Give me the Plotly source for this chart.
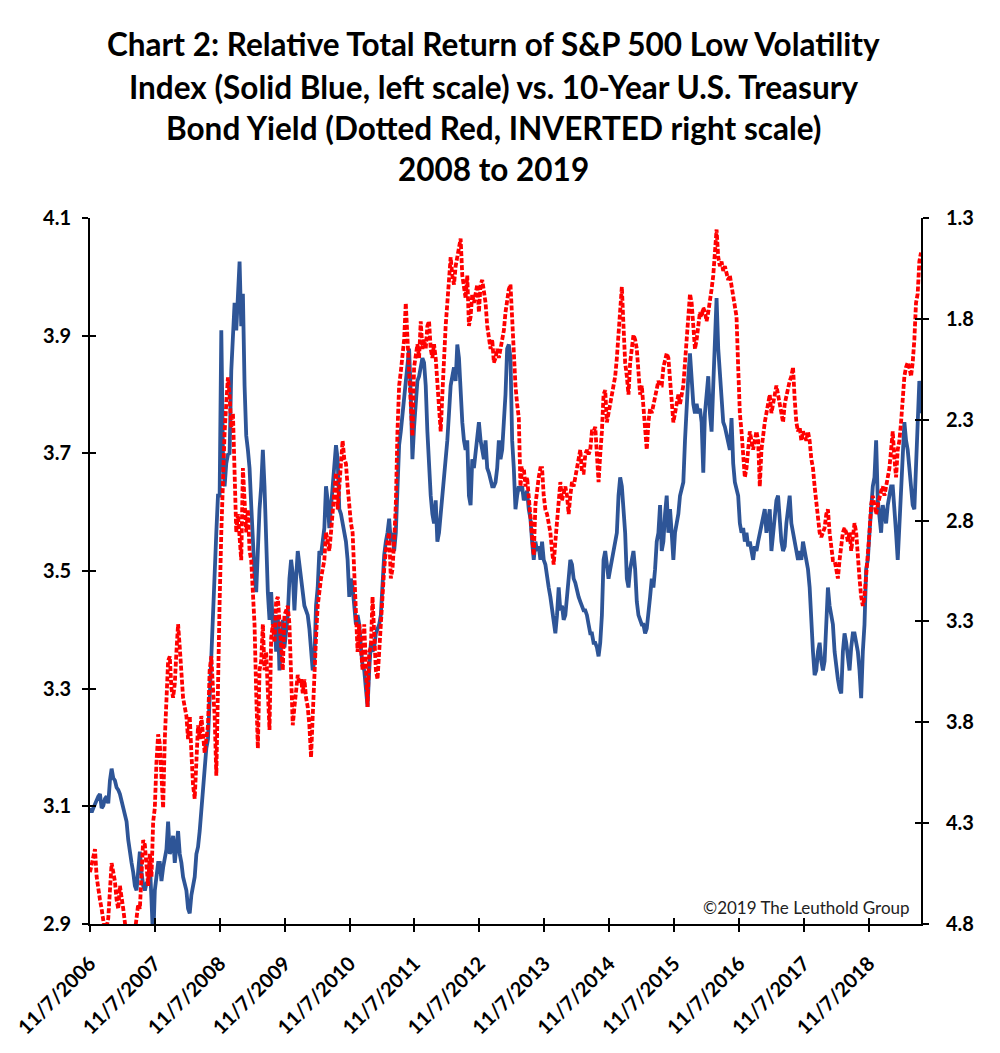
import pandas as pd
import plotly.graph_objects as go

start_date = "2006-11-07"
end_date = "2019-08-28"

# Relative total return of S&P 500 Low Volatility Index (left scale)
low_vol_rel = [
    3.097, 3.090, 3.097, 3.105, 3.109, 3.117, 3.121, 3.097, 3.101, 3.113,
    3.117, 3.105, 3.144, 3.164, 3.148, 3.144, 3.132, 3.128, 3.121, 3.109,
    3.101, 3.090, 3.074, 3.043, 3.019, 3.004, 2.988, 2.965, 2.957, 2.988,
    3.023, 2.988, 2.965, 2.957, 2.969, 2.973, 3.004, 2.941, 2.870, 2.957,
    2.988, 3.004, 3.004, 2.973, 2.996, 3.011, 3.027, 3.074, 3.019, 3.027,
    3.050, 3.004, 3.027, 3.058, 3.019, 3.004, 2.980, 2.965, 2.957, 2.926,
    2.918, 2.949, 2.965, 2.980, 3.019, 3.031, 3.058, 3.097, 3.136, 3.175,
    3.199, 3.214, 3.292, 3.363, 3.409, 3.487, 3.565, 3.628, 3.628, 3.909,
    3.700, 3.644, 3.683, 3.698, 3.700, 3.840, 3.916, 3.956, 3.909, 3.956,
    4.026, 3.916, 3.971, 3.815, 3.730, 3.706, 3.675, 3.612, 3.550, 3.495,
    3.464, 3.550, 3.605, 3.644, 3.706, 3.644, 3.550, 3.464, 3.417, 3.464,
    3.409, 3.425, 3.363, 3.425, 3.331, 3.370, 3.417, 3.370, 3.394, 3.425,
    3.487, 3.519, 3.495, 3.433, 3.487, 3.534, 3.511, 3.487, 3.464, 3.441,
    3.433, 3.425, 3.402, 3.370, 3.331, 3.347, 3.441, 3.472, 3.534, 3.527,
    3.550, 3.573, 3.644, 3.620, 3.573, 3.605, 3.644, 3.667, 3.714, 3.690,
    3.605, 3.597, 3.581, 3.565, 3.550, 3.519, 3.456, 3.487, 3.472, 3.441,
    3.409, 3.425, 3.409, 3.370, 3.339, 3.331, 3.292, 3.269, 3.331, 3.378,
    3.363, 3.370, 3.394, 3.402, 3.409, 3.425, 3.487, 3.527, 3.550, 3.565,
    3.589, 3.550, 3.565, 3.534, 3.565, 3.644, 3.714, 3.737, 3.768, 3.792,
    3.815, 3.854, 3.878, 3.800, 3.690, 3.745, 3.792, 3.823, 3.831, 3.846,
    3.862, 3.854, 3.815, 3.737, 3.675, 3.628, 3.597, 3.581, 3.620, 3.550,
    3.565, 3.597, 3.620, 3.644, 3.675, 3.722, 3.768, 3.815, 3.831, 3.846,
    3.823, 3.885, 3.862, 3.800, 3.753, 3.722, 3.706, 3.722, 3.628, 3.612,
    3.690, 3.675, 3.706, 3.737, 3.753, 3.722, 3.706, 3.690, 3.722, 3.675,
    3.667, 3.651, 3.644, 3.644, 3.651, 3.675, 3.722, 3.690, 3.706, 3.753,
    3.800, 3.878, 3.885, 3.862, 3.722, 3.675, 3.605, 3.628, 3.644, 3.636,
    3.644, 3.620, 3.628, 3.636, 3.605, 3.589, 3.550, 3.519, 3.550, 3.534,
    3.542, 3.519, 3.550, 3.519, 3.511, 3.487, 3.472, 3.456, 3.433, 3.417,
    3.394, 3.425, 3.472, 3.433, 3.441, 3.417, 3.425, 3.456, 3.487, 3.519,
    3.511, 3.487, 3.480, 3.464, 3.456, 3.448, 3.441, 3.433, 3.433, 3.425,
    3.409, 3.394, 3.394, 3.378, 3.378, 3.370, 3.355, 3.378, 3.425, 3.519,
    3.534, 3.503, 3.487, 3.503, 3.519, 3.534, 3.550, 3.565, 3.628, 3.659,
    3.644, 3.612, 3.565, 3.487, 3.472, 3.503, 3.519, 3.534, 3.503, 3.448,
    3.425, 3.417, 3.409, 3.409, 3.394, 3.402, 3.425, 3.456, 3.487, 3.472,
    3.503, 3.550, 3.565, 3.612, 3.534, 3.550, 3.597, 3.628, 3.565, 3.605,
    3.565, 3.519, 3.565, 3.581, 3.597, 3.628, 3.644, 3.651, 3.722, 3.784,
    3.831, 3.870, 3.831, 3.784, 3.768, 3.784, 3.768, 3.776, 3.753, 3.667,
    3.768, 3.800, 3.831, 3.768, 3.737, 3.815, 3.893, 3.964, 3.878, 3.831,
    3.792, 3.753, 3.745, 3.729, 3.722, 3.706, 3.760, 3.683, 3.651, 3.636,
    3.628, 3.581, 3.565, 3.573, 3.550, 3.565, 3.542, 3.550, 3.534, 3.519,
    3.542, 3.534, 3.550, 3.565, 3.581, 3.597, 3.605, 3.565, 3.581, 3.605,
    3.534, 3.565, 3.581, 3.620, 3.628, 3.581, 3.550, 3.534, 3.542, 3.581,
    3.612, 3.628, 3.581, 3.565, 3.550, 3.534, 3.519, 3.534, 3.519, 3.550,
    3.534, 3.519, 3.503, 3.472, 3.409, 3.363, 3.323, 3.331, 3.363, 3.378,
    3.347, 3.331, 3.347, 3.409, 3.472, 3.441, 3.425, 3.409, 3.363, 3.331,
    3.316, 3.300, 3.292, 3.363, 3.394, 3.378, 3.347, 3.331, 3.370, 3.394,
    3.394, 3.378, 3.363, 3.331, 3.284, 3.363, 3.409, 3.503, 3.519, 3.565,
    3.612, 3.644, 3.659, 3.722, 3.620, 3.597, 3.565, 3.612, 3.597, 3.581,
    3.612, 3.628, 3.644, 3.644, 3.612, 3.565, 3.519, 3.581, 3.644, 3.706,
    3.753, 3.722, 3.706, 3.675, 3.644, 3.612, 3.605, 3.675, 3.753, 3.823,
    3.768,
]

# 10-Year U.S. Treasury bond yield, % (inverted right scale)
treasury_10y = [
    4.543, 4.498, 4.452, 4.429, 4.566, 4.634, 4.680, 4.725, 4.771, 4.839,
    4.816, 4.771, 4.634, 4.498, 4.543, 4.589, 4.680, 4.725, 4.611, 4.657,
    4.725, 4.793, 4.862, 4.953, 4.998, 4.953, 4.907, 4.839, 4.771, 4.702,
    4.725, 4.566, 4.384, 4.407, 4.543, 4.611, 4.452, 4.566, 4.293, 4.225,
    3.997, 3.860, 3.906, 4.111, 4.225, 3.883, 3.678, 3.496, 3.473, 3.633,
    3.678, 3.610, 3.451, 3.314, 3.428, 3.587, 3.678, 3.724, 3.769, 3.883,
    3.769, 3.951, 4.111, 4.179, 3.997, 3.815, 3.883, 3.769, 3.860, 3.951,
    3.883, 3.815, 3.542, 3.473, 3.633, 3.769, 4.065, 3.540, 3.200, 2.859,
    2.540, 2.360, 2.220, 2.090, 2.180, 2.340, 2.267, 2.677, 2.859, 2.768,
    2.904, 2.996, 2.540, 2.722, 2.859, 2.745, 2.950, 2.996, 3.155, 3.314,
    3.656, 3.929, 3.542, 3.496, 3.314, 3.542, 3.451, 3.656, 3.838, 3.382,
    3.314, 3.405, 3.200, 3.178, 3.314, 3.451, 3.542, 3.269, 3.246, 3.223,
    3.314, 3.542, 3.815, 3.724, 3.656, 3.565, 3.610, 3.587, 3.656, 3.587,
    3.678, 3.724, 3.815, 3.974, 3.769, 3.542, 3.382, 3.223, 3.132, 3.087,
    3.041, 2.996, 2.859, 2.904, 2.950, 2.859, 2.745, 2.631, 2.563, 2.745,
    2.631, 2.495, 2.404, 2.495, 2.518, 2.631, 2.745, 2.813, 2.859, 3.087,
    3.314, 3.451, 3.314, 3.405, 3.542, 3.314, 3.542, 3.724, 3.451, 3.428,
    3.178, 3.360, 3.542, 3.587, 3.451, 3.314, 3.132, 3.041, 2.950, 2.904,
    2.859, 3.087, 3.041, 2.904, 2.722, 2.358, 2.131, 2.062, 1.994, 1.903,
    1.721, 1.858, 2.062, 2.222, 2.381, 2.040, 1.994, 1.926, 1.994, 1.812,
    1.949, 1.903, 1.949, 1.835, 1.812, 1.949, 1.994, 1.926, 1.994, 2.131,
    2.290, 2.358, 2.176, 1.949, 1.835, 1.721, 1.585, 1.494, 1.585, 1.630,
    1.539, 1.494, 1.448, 1.402, 1.585, 1.653, 1.698, 1.585, 1.835, 1.789,
    1.676, 1.721, 1.676, 1.630, 1.767, 1.630, 1.607, 1.653, 1.721, 1.835,
    1.903, 1.949, 1.903, 2.017, 1.994, 1.949, 1.994, 1.949, 1.903, 1.858,
    1.767, 1.698, 1.653, 1.630, 1.812, 1.949, 2.131, 2.222, 2.290, 2.631,
    2.540, 2.540, 2.631, 2.586, 2.677, 2.745, 2.859, 2.973, 2.722, 2.631,
    2.586, 2.540, 2.540, 2.677, 2.745, 2.768, 2.813, 2.859, 2.950, 3.018,
    2.904, 2.813, 2.677, 2.609, 2.700, 2.654, 2.631, 2.677, 2.768, 2.677,
    2.609, 2.631, 2.586, 2.518, 2.472, 2.449, 2.563, 2.563, 2.472, 2.449,
    2.472, 2.449, 2.358, 2.358, 2.336, 2.449, 2.609, 2.472, 2.358, 2.176,
    2.153, 2.313, 2.267, 2.222, 2.176, 2.131, 2.085, 1.994, 1.858, 1.721,
    1.641, 1.835, 2.017, 2.085, 2.176, 2.017, 1.926, 1.880, 1.903, 1.949,
    2.062, 2.176, 2.131, 2.222, 2.313, 2.449, 2.313, 2.245, 2.267, 2.222,
    2.176, 2.153, 2.108, 2.131, 2.131, 2.040, 1.994, 1.971, 1.994, 2.108,
    2.222, 2.313, 2.267, 2.222, 2.176, 2.222, 2.176, 2.131, 2.017, 1.903,
    1.767, 1.676, 1.721, 1.835, 1.949, 1.903, 1.812, 1.767, 1.789, 1.744,
    1.767, 1.812, 1.767, 1.721, 1.653, 1.585, 1.471, 1.357, 1.494, 1.539,
    1.516, 1.562, 1.539, 1.585, 1.607, 1.585, 1.630, 1.698, 1.744, 1.789,
    2.040, 2.267, 2.358, 2.495, 2.586, 2.540, 2.449, 2.358, 2.404, 2.449,
    2.404, 2.358, 2.404, 2.631, 2.449, 2.358, 2.313, 2.267, 2.222, 2.176,
    2.267, 2.222, 2.176, 2.131, 2.176, 2.222, 2.267, 2.313, 2.222, 2.176,
    2.131, 2.108, 2.085, 2.040, 2.199, 2.313, 2.358, 2.336, 2.404, 2.358,
    2.381, 2.404, 2.358, 2.404, 2.495, 2.540, 2.631, 2.722, 2.813, 2.859,
    2.882, 2.859, 2.836, 2.768, 2.745, 2.859, 2.950, 2.996, 2.996, 3.041,
    3.087, 2.996, 2.904, 2.859, 2.836, 2.859, 2.904, 2.859, 2.950, 2.859,
    2.813, 2.859, 2.996, 3.087, 3.178, 3.223, 3.178, 3.087, 2.996, 2.859,
    2.722, 2.677, 2.722, 2.768, 2.722, 2.677, 2.654, 2.631, 2.677, 2.631,
    2.586, 2.540, 2.449, 2.358, 2.495, 2.586, 2.449, 2.404, 2.313, 2.176,
    2.085, 2.040, 2.017, 2.040, 2.085, 2.017, 1.903, 1.721, 1.676, 1.516,
    1.471,
]

dates = pd.date_range(start_date, end_date, periods=len(low_vol_rel))

tick_years = list(range(2006, 2019))
tick_dates = [f"{y}-11-07" for y in tick_years]
tick_labels = [f"11/7/{y}" for y in tick_years]
left_ticks = [2.9, 3.1, 3.3, 3.5, 3.7, 3.9, 4.1]
right_ticks = [1.3, 1.8, 2.3, 2.8, 3.3, 3.8, 4.3, 4.8]
left_range = [2.9, 4.1]
right_range = [4.8, 1.3]  # inverted

title_lines = [
    "Chart 2: Relative Total Return of S&P 500 Low Volatility",
    "Index (Solid Blue, left scale) vs. 10-Year U.S. Treasury",
    "Bond Yield (Dotted Red, INVERTED right scale)",
    "2008 to 2019",
]
credit = "\u00a92019 The Leuthold Group"

FONT = "Lato"
BLUE = "#2E5597"
RED = "#FF0000"

fig = go.Figure()
fig.add_trace(go.Scatter(
    x=dates, y=low_vol_rel, mode="lines", name="S&P 500 Low Volatility (rel.)",
    line=dict(color=BLUE, width=3.8), yaxis="y", showlegend=False))
fig.add_trace(go.Scatter(
    x=dates, y=treasury_10y, mode="lines", name="10-Year Treasury Yield",
    line=dict(color=RED, width=3.8, dash="5px,2px"), yaxis="y2", showlegend=False))
# helper (empty) traces so that the inner halves of the crossing tick marks are drawn
fig.add_trace(go.Scatter(x=[dates[0]], y=[None], xaxis="x2", yaxis="y3",
                         showlegend=False, hoverinfo="skip"))
fig.add_trace(go.Scatter(x=[dates[0]], y=[None], xaxis="x", yaxis="y4",
                         showlegend=False, hoverinfo="skip"))

tickfont = dict(family=FONT, size=20, color="black", weight="bold")
common = dict(showgrid=False, zeroline=False, tickcolor="black", tickwidth=2, ticklen=6)

fig.update_layout(
    width=1000, height=1053,
    margin=dict(l=88, r=79, t=218, b=129),
    paper_bgcolor="white", plot_bgcolor="white",
    xaxis=dict(type="date", range=[start_date, end_date], tickmode="array",
               tickvals=tick_dates, ticktext=tick_labels, tickangle=-45,
               ticks="outside", showline=True, linecolor="black", linewidth=2,
               tickfont=tickfont, ticklabelstandoff=12, **common),
    xaxis2=dict(type="date", range=[start_date, end_date], overlaying="x", anchor="y",
                tickmode="array", tickvals=tick_dates, ticks="inside",
                showticklabels=False, showline=False, **common),
    yaxis=dict(range=left_range, tickmode="array", tickvals=left_ticks,
               ticktext=[f"{v:.1f}" for v in left_ticks], ticks="outside",
               showline=True, linecolor="black", linewidth=2, tickfont=tickfont,
               ticklabelstandoff=7, **common),
    yaxis2=dict(range=right_range, overlaying="y", side="right", anchor="x",
                tickmode="array", tickvals=right_ticks,
                ticktext=[f"{v:.1f}" for v in right_ticks], ticks="outside",
                showline=True, linecolor="black", linewidth=2, tickfont=tickfont,
                ticklabelstandoff=13, **common),
    yaxis3=dict(range=left_range, overlaying="y", side="left", anchor="x2",
                tickmode="array", tickvals=left_ticks, ticks="inside",
                showticklabels=False, showline=False, **common),
    yaxis4=dict(range=right_range, overlaying="y", side="right", anchor="x",
                tickmode="array", tickvals=right_ticks, ticks="inside",
                showticklabels=False, showline=False, **common),
)

title_y = [1.247, 1.186, 1.127, 1.069]
for line, yy in zip(title_lines, title_y):
    fig.add_annotation(text=line, xref="paper", yref="paper", x=0.485, y=yy,
                       xanchor="center", yanchor="middle", showarrow=False,
                       font=dict(family=FONT, size=31.5, color="black", weight="bold"))

fig.add_annotation(text=credit, xref="paper", yref="paper", x=0.989, y=0.024,
                   xanchor="right", yanchor="middle", showarrow=False,
                   font=dict(family=FONT, size=17, color="#222222"))

fig.write_html("out.html")
